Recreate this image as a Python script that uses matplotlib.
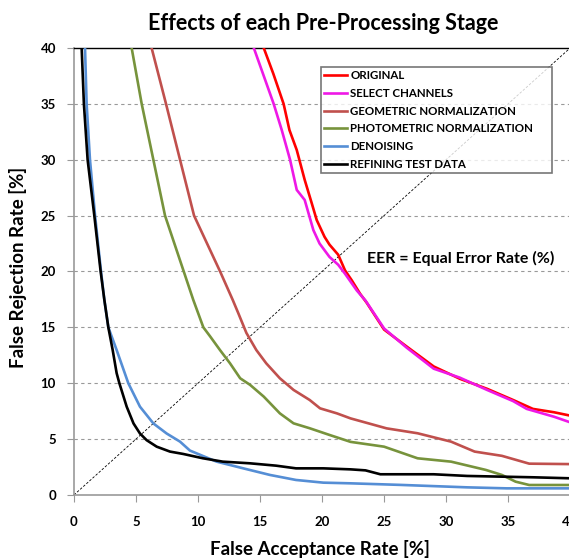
import matplotlib.pyplot as plt

plt.rcParams['font.family'] = ['Lato', 'DejaVu Sans']

# ROC curves: FAR [%] vs FRR [%]
orig_x = [15.3, 16.07, 16.9, 17.37, 17.96, 18.6, 19.17, 19.57, 20.2, 20.6, 21.3, 21.85, 22.4, 23.07, 23.6,
          25.0, 26.8, 29.0, 31.1, 33.3, 35.4, 37.0, 38.7, 40]
orig_y = [40, 37.7, 35, 32.66, 30.87, 28.2, 26.1, 24.6, 23.1, 22.4, 21.5, 20.1, 19.2, 18.0, 17.2,
          14.8, 13.3, 11.5, 10.4, 9.5, 8.5, 7.7, 7.4, 7.1]

sel_x = [14.5, 16.1, 16.75, 17.42, 17.96, 18.6, 19.3, 19.8, 20.6, 21.3, 21.85, 22.8, 23.5,
         25.0, 26.8, 29.0, 31.1, 33.3, 35.4, 36.5, 38.7, 40]
sel_y = [40, 35, 32.66, 30, 27.3, 26.4, 23.7, 22.5, 21.3, 20.6, 19.8, 18.3, 17.4,
         14.9, 13.2, 11.3, 10.5, 9.4, 8.4, 7.7, 7.0, 6.5]

geo_x = [6.26, 7.42, 8.55, 9.68, 11.78, 12.8, 13.25, 13.9, 14.7, 15.5, 16.6, 17.7, 19.0, 19.84, 21.2,
         22.3, 25.2, 27.7, 30.4, 32.3, 34.5, 36.7, 40]
geo_y = [40, 35, 30, 25, 20, 17.45, 16.26, 14.5, 12.97, 11.78, 10.44, 9.4, 8.5, 7.75, 7.3,
         6.85, 5.96, 5.52, 4.77, 3.88, 3.5, 2.8, 2.76]

photo_x = [4.65, 5.46, 6.4, 7.34, 8.85, 9.62, 10.43, 10.97, 11.77, 12.58, 13.4, 14.2, 15.3, 16.6, 17.7,
           19.0, 20.6, 22.3, 25.0, 27.7, 30.4, 33.2, 34.5, 35.6, 36.7, 40]
photo_y = [40, 35, 30, 25, 20, 17.45, 15, 14.2, 12.97, 11.78, 10.44, 9.85, 8.8, 7.3, 6.41,
           5.97, 5.37, 4.75, 4.32, 3.28, 2.98, 2.24, 1.79, 1.19, 0.89, 0.89]

den_x = [0.89, 1.02, 1.29, 1.7, 2.18, 2.45, 2.77, 3.44, 4.38, 5.32, 6.4, 7.47, 8.55, 9.35, 11.5,
         13.65, 15.8, 17.9, 20.1, 22.3, 26.3, 31.7, 34.9, 40]
den_y = [40, 35, 30, 25, 20, 17.45, 15, 12.97, 10, 7.9, 6.4, 5.5, 4.77, 3.97, 2.98,
         2.38, 1.79, 1.34, 1.1, 1.04, 0.9, 0.68, 0.59, 0.59]

ref_x = [0.62, 0.8, 1.1, 1.64, 2.15, 2.45, 2.77, 3.12, 3.44, 3.66, 4.25, 4.8, 5.32, 5.86, 6.67, 7.74,
         8.8, 10.4, 12.0, 14.2, 16.3, 17.9, 20.1, 22.3, 23.5, 24.7, 29.0, 31.7, 37.0, 40]
ref_y = [40, 35, 30, 25, 20, 17.45, 15, 12.97, 10.9, 10, 7.9, 6.4, 5.5, 4.9, 4.32, 3.88,
         3.67, 3.28, 2.98, 2.83, 2.62, 2.38, 2.38, 2.29, 2.2, 1.85, 1.85, 1.70, 1.58, 1.49]

labels = ['ORIGINAL', 'SELECT CHANNELS', 'GEOMETRIC NORMALIZATION',
          'PHOTOMETRIC NORMALIZATION', 'DENOISING', 'REFINING TEST DATA']
colors = ['#FF0000', '#EE18E6', '#C0504D', '#77933C', '#558ED5', '#000000']
ticks = [0, 5, 10, 15, 20, 25, 30, 35, 40]
tick_labels = ['0', '5', '10', '15', '20', '25', '30', '35', '40']

fig = plt.figure(figsize=(5.69, 5.58), dpi=100)
ax = fig.add_axes([0.130, 0.113, 0.872, 0.801])

for y in ticks[1:-1]:
    ax.axhline(y, color='#999999', lw=0.8, ls=(0, (3, 3)), zorder=0)

# EER diagonal
ax.plot([0, 40], [0, 40], color='black', lw=0.6, ls=(0, (3, 2)), zorder=1)

series = [(orig_x, orig_y), (sel_x, sel_y), (geo_x, geo_y),
          (photo_x, photo_y), (den_x, den_y), (ref_x, ref_y)]
for (xs, ys), lab, c in zip(series, labels, colors):
    ax.plot(xs, ys, color=c, lw=1.9, label=lab, zorder=3)

ax.set_xlim(0, 40)
ax.set_ylim(0, 40)
ax.set_xticks(ticks)
ax.set_xticklabels(tick_labels)
ax.set_yticks(ticks)
ax.set_yticklabels(tick_labels)
ax.tick_params(axis='both', colors='#999999', length=5, width=0.8, labelsize=9.5, labelcolor='black')
ax.tick_params(axis='x', pad=10)
ax.tick_params(axis='y', pad=8)
for t in ax.get_xticklabels() + ax.get_yticklabels():
    t.set_fontweight('bold')

ax.spines['left'].set_color('#999999')
ax.spines['bottom'].set_color('#999999')
ax.spines['left'].set_linewidth(1.2)
ax.spines['bottom'].set_linewidth(1.2)
ax.spines['top'].set_color('black')
ax.spines['top'].set_linewidth(1.0)
ax.spines['right'].set_visible(False)

fig.text(0.568, 0.958, 'Effects of each Pre-Processing Stage', ha='center', va='center',
         fontsize=15.5, fontweight='bold')
fig.text(0.562, 0.017, 'False Acceptance Rate [%]', ha='center', va='center',
         fontsize=13.5, fontweight='bold')
fig.text(0.032, 0.521, 'False Rejection Rate [%]', ha='center', va='center',
         rotation=90, fontsize=13.5, fontweight='bold')
ax.text(31.2, 21.2, 'EER = Equal Error Rate (%)', ha='center', va='center',
        fontsize=11.5, fontweight='bold')

leg = ax.legend(loc='upper left', bbox_to_anchor=(0.486, 0.971, 0.49, 0.0), mode='expand',
                frameon=True, fancybox=False, edgecolor='#555555', handlelength=2.0,
                handletextpad=0.25, labelspacing=0.58, borderpad=0.3,
                prop={'weight': 'bold', 'size': 8.3})
leg.get_frame().set_linewidth(1.2)

fig.savefig('out.png', dpi=100)
